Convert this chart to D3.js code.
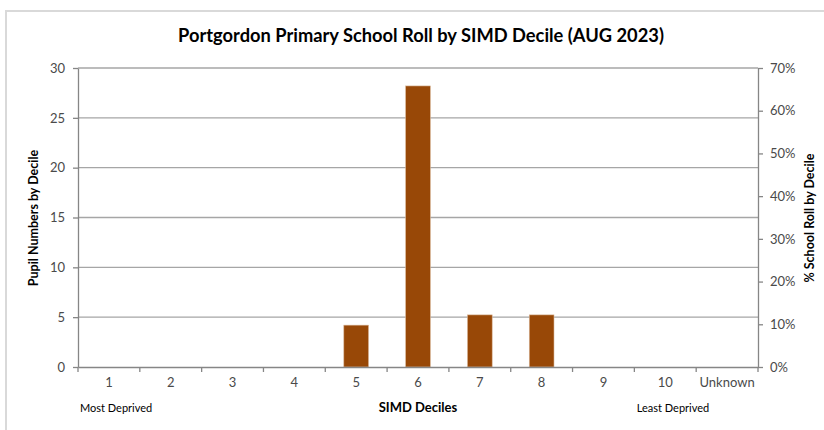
<!DOCTYPE html>
<html><head><meta charset="utf-8">
<script src="https://cdn.jsdelivr.net/npm/d3@7"></script>
<style>
html,body{margin:0;padding:0;background:#fff;}
svg{display:block;font-family:Lato,"Open Sans",sans-serif;}
</style></head>
<body><svg id="c" width="824" height="430"></svg>
<script>
const categories = ["1","2","3","4","5","6","7","8","9","10","Unknown"];
const percentValues = [0,0,0,0,9.8,65.8,12.2,12.2,0,0,0];
const leftTicks = [0,5,10,15,20,25,30];
const rightTicks = [0,10,20,30,40,50,60,70];

const svg = d3.select("#c");
const m = {l:78, r:758, t:68, b:367};

svg.append("rect").attr("x",6).attr("y",11).attr("width",830).attr("height",430)
  .attr("fill","#fff").attr("stroke","#d9d9d9").attr("stroke-width",2);

const x = d3.scaleBand().domain(categories).range([m.l,m.r]).paddingInner(0.6).paddingOuter(0.3);
const xb = d3.scaleBand().domain(categories).range([m.l,m.r]);
const yL = d3.scaleLinear().domain([0,30]).range([m.b,m.t]);
const yR = d3.scaleLinear().domain([0,70]).range([m.b,m.t]);

svg.append("g").selectAll("line").data(leftTicks.slice(1)).join("line")
  .attr("x1",m.l).attr("x2",m.r).attr("y1",d=>yL(d)).attr("y2",d=>yL(d))
  .attr("stroke","#a6a6a6").attr("stroke-width",1.3);

svg.append("g").selectAll("rect").data(categories.map((c,i)=>({c,v:percentValues[i]})).filter(d=>d.v>0)).join("rect")
  .attr("x",d=>x(d.c)).attr("width",x.bandwidth())
  .attr("y",d=>yR(d.v)).attr("height",d=>yR(0)-yR(d.v))
  .attr("fill","#984807").attr("stroke","#d9b79a").attr("stroke-width",0.6);

const axisCol = "#868686", txtCol = "#4a4a4a";

const gL = svg.append("g").attr("transform",`translate(${m.l},0)`)
  .call(d3.axisLeft(yL).tickValues(leftTicks).tickSize(5).tickPadding(8).tickSizeOuter(0));
const gR = svg.append("g").attr("transform",`translate(${m.r},0)`)
  .call(d3.axisRight(yR).tickValues(rightTicks).tickSize(5).tickPadding(7).tickSizeOuter(0).tickFormat(d=>d+"%"));
const gB = svg.append("g").attr("transform",`translate(0,${m.b})`)
  .call(d3.axisBottom(xb).tickSize(0).tickPadding(11));
gB.selectAll(".tick line").remove();
gB.append("g").selectAll("line").data(d3.range(categories.length+1)).join("line")
  .attr("x1",i=>m.l+i*xb.bandwidth()).attr("x2",i=>m.l+i*xb.bandwidth())
  .attr("y1",0).attr("y2",5).attr("stroke",axisCol).attr("stroke-width",1.3);

[gL,gR,gB].forEach(g=>{
  g.select(".domain").attr("stroke",axisCol).attr("stroke-width",1.3);
  g.selectAll(".tick line").attr("stroke",axisCol).attr("stroke-width",1.3);
  g.selectAll("text").attr("fill",txtCol).style("font-size","13px").style("font-family","Lato,'Open Sans',sans-serif");
});

svg.append("text").attr("x",421).attr("y",42).attr("text-anchor","middle")
  .style("font-size","18.3px").style("font-weight","bold").attr("fill","#000")
  .text("Portgordon Primary School Roll by SIMD Decile (AUG 2023)");

svg.append("text").attr("transform","translate(38,218) rotate(-90)").attr("text-anchor","middle")
  .style("font-size","12.5px").style("font-weight","bold").attr("fill","#000").text("Pupil Numbers by Decile");
svg.append("text").attr("transform","translate(814,218) rotate(-90)").attr("text-anchor","middle")
  .style("font-size","12.5px").style("font-weight","bold").attr("fill","#000").text("% School Roll by Decile");
svg.append("text").attr("x",418).attr("y",412).attr("text-anchor","middle")
  .style("font-size","13px").style("font-weight","bold").attr("fill","#000").text("SIMD Deciles");
svg.append("text").attr("x",80).attr("y",412)
  .style("font-size","11px").attr("fill","#000").text("Most Deprived");
svg.append("text").attr("x",673).attr("y",412).attr("text-anchor","middle")
  .style("font-size","11px").attr("fill","#000").text("Least Deprived");
</script></body></html>
